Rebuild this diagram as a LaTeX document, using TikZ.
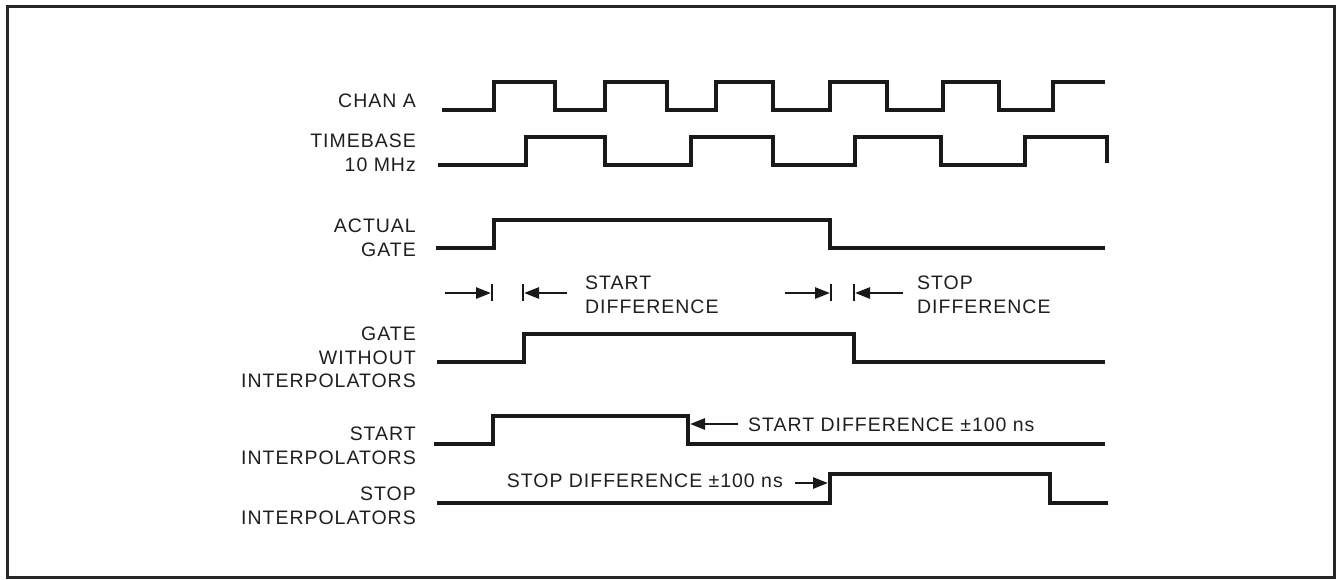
\documentclass[tikz,border=0pt]{standalone}
\usepackage{fontspec}
\setmainfont{Liberation Sans}[LetterSpace=5]
\usetikzlibrary{arrows.meta}
\begin{document}
\begin{tikzpicture}[x=1pt,y=-1pt,
  wave/.style={line width=3.2pt, line join=miter, color=black!90},
  lbl/.style={font=\fontsize{19.5}{23.5}\selectfont, inner sep=0pt, align=right, anchor=north east, text=black!88},
  txt/.style={font=\fontsize{19.5}{23.5}\selectfont, inner sep=0pt, align=left, anchor=north west, text=black!88},
  dimarrow/.style={line width=2.6pt, color=black!90, -{Triangle[length=15pt,width=11pt]}},
  dimbar/.style={line width=2.6pt, color=black!90},
  frame/.style={line width=3pt, color=black!85}]
\useasboundingbox (0,0) rectangle (1340,579);
\draw[frame] (7,6) rectangle (1334,577);

% labels
\node[lbl] (lchan) at (416,94) {CHAN A};
\node[lbl] (ltb) at (416,134) {TIMEBASE\\10 MHz};
\node[lbl] (lact) at (416,219) {ACTUAL\\GATE};
\node[lbl] (lgw) at (416,327) {GATE\\WITHOUT\\INTERPOLATORS};
\node[lbl] (lsti) at (416,427) {START\\INTERPOLATORS};
\node[lbl] (lspi) at (416,487) {STOP\\INTERPOLATORS};

% waveforms
\draw[wave] (442,110) -- (494,110) -- (494,82) -- (555,82) -- (555,110) -- (605,110) -- (605,82) -- (667,82) -- (667,110) -- (716,110) -- (716,82) -- (773,82) -- (773,110) -- (830,110) -- (830,82) -- (887,82) -- (887,110) -- (943,110) -- (943,82) -- (999,82) -- (999,110) -- (1053,110) -- (1053,82) -- (1105,82);
\draw[wave] (438,165) -- (526,165) -- (526,137) -- (605,137) -- (605,165) -- (691,165) -- (691,137) -- (773,137) -- (773,165) -- (855,165) -- (855,137) -- (941,137) -- (941,165) -- (1025,165) -- (1025,137) -- (1107,137) -- (1107,163);
\draw[wave] (436,248) -- (494,248) -- (494,220) -- (830,220) -- (830,248) -- (1105,248);
\draw[wave] (437,362) -- (524,362) -- (524,334) -- (854,334) -- (854,362) -- (1105,362);
\draw[wave] (434,444) -- (493,444) -- (493,416) -- (688,416) -- (688,444) -- (1105,444);
\draw[wave] (437,503) -- (830,503) -- (830,474) -- (1050,474) -- (1050,503) -- (1108,503);

% start / stop difference markers
\coordinate (a1s) at (445,293);
\coordinate (a1e) at (491,293);
\coordinate (a2s) at (567,293);
\coordinate (a2e) at (524,293);
\coordinate (a3s) at (785,293);
\coordinate (a3e) at (830,293);
\coordinate (a4s) at (903,293);
\coordinate (a4e) at (855,293);
\draw[dimarrow] (a1s) -- (a1e);
\draw[dimarrow] (a2s) -- (a2e);
\draw[dimarrow] (a3s) -- (a3e);
\draw[dimarrow] (a4s) -- (a4e);
\draw[dimbar] ([xshift=1pt,yshift=-8pt]a1e) -- ([xshift=1pt,yshift=9pt]a1e);
\draw[dimbar] ([xshift=-1pt,yshift=-8pt]a2e) -- ([xshift=-1pt,yshift=9pt]a2e);
\draw[dimbar] ([xshift=1pt,yshift=-8pt]a3e) -- ([xshift=1pt,yshift=9pt]a3e);
\draw[dimbar] ([xshift=-1pt,yshift=-8pt]a4e) -- ([xshift=-1pt,yshift=9pt]a4e);
\node[txt] (tsd) at (585,276) {START\\DIFFERENCE};
\node[txt] (tpd) at (917,276) {STOP\\DIFFERENCE};

% interpolator difference labels
\node[txt] (tsd2) at (748,418) {START DIFFERENCE \textpm100 ns};
\node[lbl] (tpd2) at (783,474) {STOP DIFFERENCE \textpm100 ns};
\coordinate (sdtip) at (690,424);
\coordinate (sdtail) at (738,424);
\coordinate (pdtip) at (828,483);
\coordinate (pdtail) at (795,483);
\draw[dimarrow] (sdtail) -- (sdtip);
\draw[dimarrow] (pdtail) -- (pdtip);
\end{tikzpicture}
\end{document}
